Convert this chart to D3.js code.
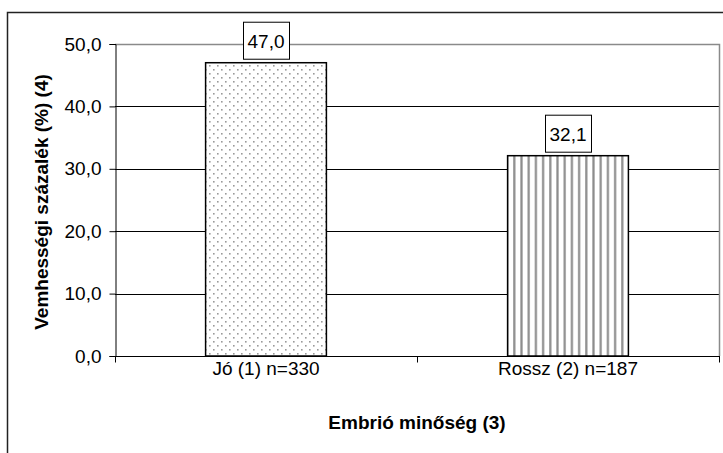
<!DOCTYPE html>
<html>
<head>
<meta charset="utf-8">
<script src="https://cdn.jsdelivr.net/npm/d3@7"></script>
<style>
  body { margin: 0; background: #fff; }
  text { font-family: "Liberation Sans", Arial, sans-serif; fill: #000; }
</style>
</head>
<body>
<svg id="chart" width="723" height="453"></svg>
<script>
// data
const categories = ["Jó (1) n=330", "Rossz (2) n=187"];
const values = [47.0, 32.1];
const patterns = ["dots", "stripes"];
const yTicks = [0, 10, 20, 30, 40, 50];
const yTitle = "Vemhességi százalék (%) (4)";
const xTitle = "Embrió minőség (3)";

const svg = d3.select("#chart");
const plot = { left: 115, right: 719, top: 44, bottom: 356 };
const fmt = v => d3.format(".1f")(v).replace(".", ",");

// patterns
const defs = svg.append("defs");
const pDots = defs.append("pattern").attr("id", "dots")
    .attr("patternUnits", "userSpaceOnUse").attr("width", 8).attr("height", 8);
pDots.append("rect").attr("width", 8).attr("height", 8).attr("fill", "#fff");
pDots.append("rect").attr("x", 1).attr("y", 1).attr("width", 1.6).attr("height", 1.6).attr("fill", "#9a9a9a");
pDots.append("rect").attr("x", 5).attr("y", 5).attr("width", 1.6).attr("height", 1.6).attr("fill", "#9a9a9a");

const pStripes = defs.append("pattern").attr("id", "stripes")
    .attr("patternUnits", "userSpaceOnUse").attr("width", 7.2).attr("height", 8);
pStripes.append("rect").attr("width", 7.2).attr("height", 8).attr("fill", "#fff");
pStripes.append("rect").attr("x", 2).attr("width", 2.2).attr("height", 8).attr("fill", "#8c8c8c");

// outer frame (runs off the right and bottom edge)
svg.append("rect")
    .attr("x", 7.5).attr("y", 12.5).attr("width", 740).attr("height", 460)
    .attr("fill", "#fff").attr("stroke", "#222").attr("stroke-width", 1.5);

// scales
const x = d3.scaleBand().domain(categories)
    .range([plot.left, plot.right]).paddingInner(0.6).paddingOuter(0.3);
const xCat = d3.scaleBand().domain(categories).range([plot.left, plot.right]);
const y = d3.scaleLinear().domain([0, 50]).range([plot.bottom, plot.top]);

// gridlines
svg.append("g").selectAll("line")
    .data(yTicks.filter(t => t > 0))
    .join("line")
    .attr("x1", plot.left).attr("x2", plot.right)
    .attr("y1", d => Math.round(y(d)) + 0.5).attr("y2", d => Math.round(y(d)) + 0.5)
    .attr("stroke", "#000").attr("stroke-width", 1);

// plot area border (grey, top and right)
svg.append("path")
    .attr("d", `M${plot.left},${plot.top + 0.5}H${plot.right + 0.5}V${plot.bottom}`)
    .attr("fill", "none").attr("stroke", "#8a8a8a").attr("stroke-width", 1.5);

// bars
svg.append("g").selectAll("rect")
    .data(values)
    .join("rect")
    .attr("x", (d, i) => x(categories[i]))
    .attr("y", d => y(d))
    .attr("width", x.bandwidth())
    .attr("height", d => y(0) - y(d))
    .attr("fill", (d, i) => `url(#${patterns[i]})`)
    .attr("stroke", "#000").attr("stroke-width", 1.5);

// y axis
const yAxis = svg.append("g")
    .attr("transform", `translate(${plot.left + 0.5},0)`)
    .call(d3.axisLeft(y).tickValues(yTicks).tickFormat(fmt).tickSize(6).tickPadding(8));
yAxis.select(".domain").attr("stroke", "#000");
yAxis.selectAll("text").style("font-size", "19px")
    .style("font-family", "'Liberation Sans', Arial, sans-serif");

// x axis: ticks at category boundaries, labels at centres
const xAxis = svg.append("g").attr("transform", `translate(0,${plot.bottom + 0.5})`);
xAxis.append("line").attr("x1", plot.left).attr("x2", plot.right + 1).attr("stroke", "#000");
const edges = categories.map(c => xCat(c)).concat([xCat(categories[categories.length - 1]) + xCat.bandwidth()]);
xAxis.selectAll(".tk").data(edges).join("line").attr("class", "tk")
    .attr("x1", d => Math.round(d) + 0.5).attr("x2", d => Math.round(d) + 0.5)
    .attr("y1", 0).attr("y2", 6).attr("stroke", "#000");
xAxis.selectAll(".lbl").data(categories).join("text").attr("class", "lbl")
    .attr("x", d => xCat(d) + xCat.bandwidth() / 2)
    .attr("y", 18)
    .attr("text-anchor", "middle")
    .style("font-size", "19px")
    .text(d => d);

// value labels in boxes
const lab = svg.append("g").selectAll("g")
    .data(values)
    .join("g")
    .attr("transform", (d, i) => `translate(${x(categories[i]) + x.bandwidth() / 2},${y(d) - 3})`);
lab.append("rect").attr("class", "box");
lab.append("text")
    .attr("text-anchor", "middle")
    .attr("y", -12)
    .style("font-size", "19px")
    .text(d => fmt(d));
lab.each(function() {
  const g = d3.select(this);
  const w = g.select("text").node().getComputedTextLength() + 9;
  g.select("rect")
      .attr("x", Math.round(-w / 2) + 0.5).attr("y", -37.5)
      .attr("width", Math.round(w)).attr("height", 37)
      .attr("fill", "#fff").attr("stroke", "#000").attr("stroke-width", 1);
});

// axis titles
svg.append("text")
    .attr("x", (plot.left + plot.right) / 2).attr("y", 429)
    .attr("text-anchor", "middle")
    .style("font-size", "19px").style("font-weight", "bold")
    .text(xTitle);

svg.append("text")
    .attr("transform", `translate(48,202) rotate(-90)`)
    .attr("text-anchor", "middle")
    .style("font-size", "19px").style("font-weight", "bold")
    .text(yTitle);
</script>
</body>
</html>
